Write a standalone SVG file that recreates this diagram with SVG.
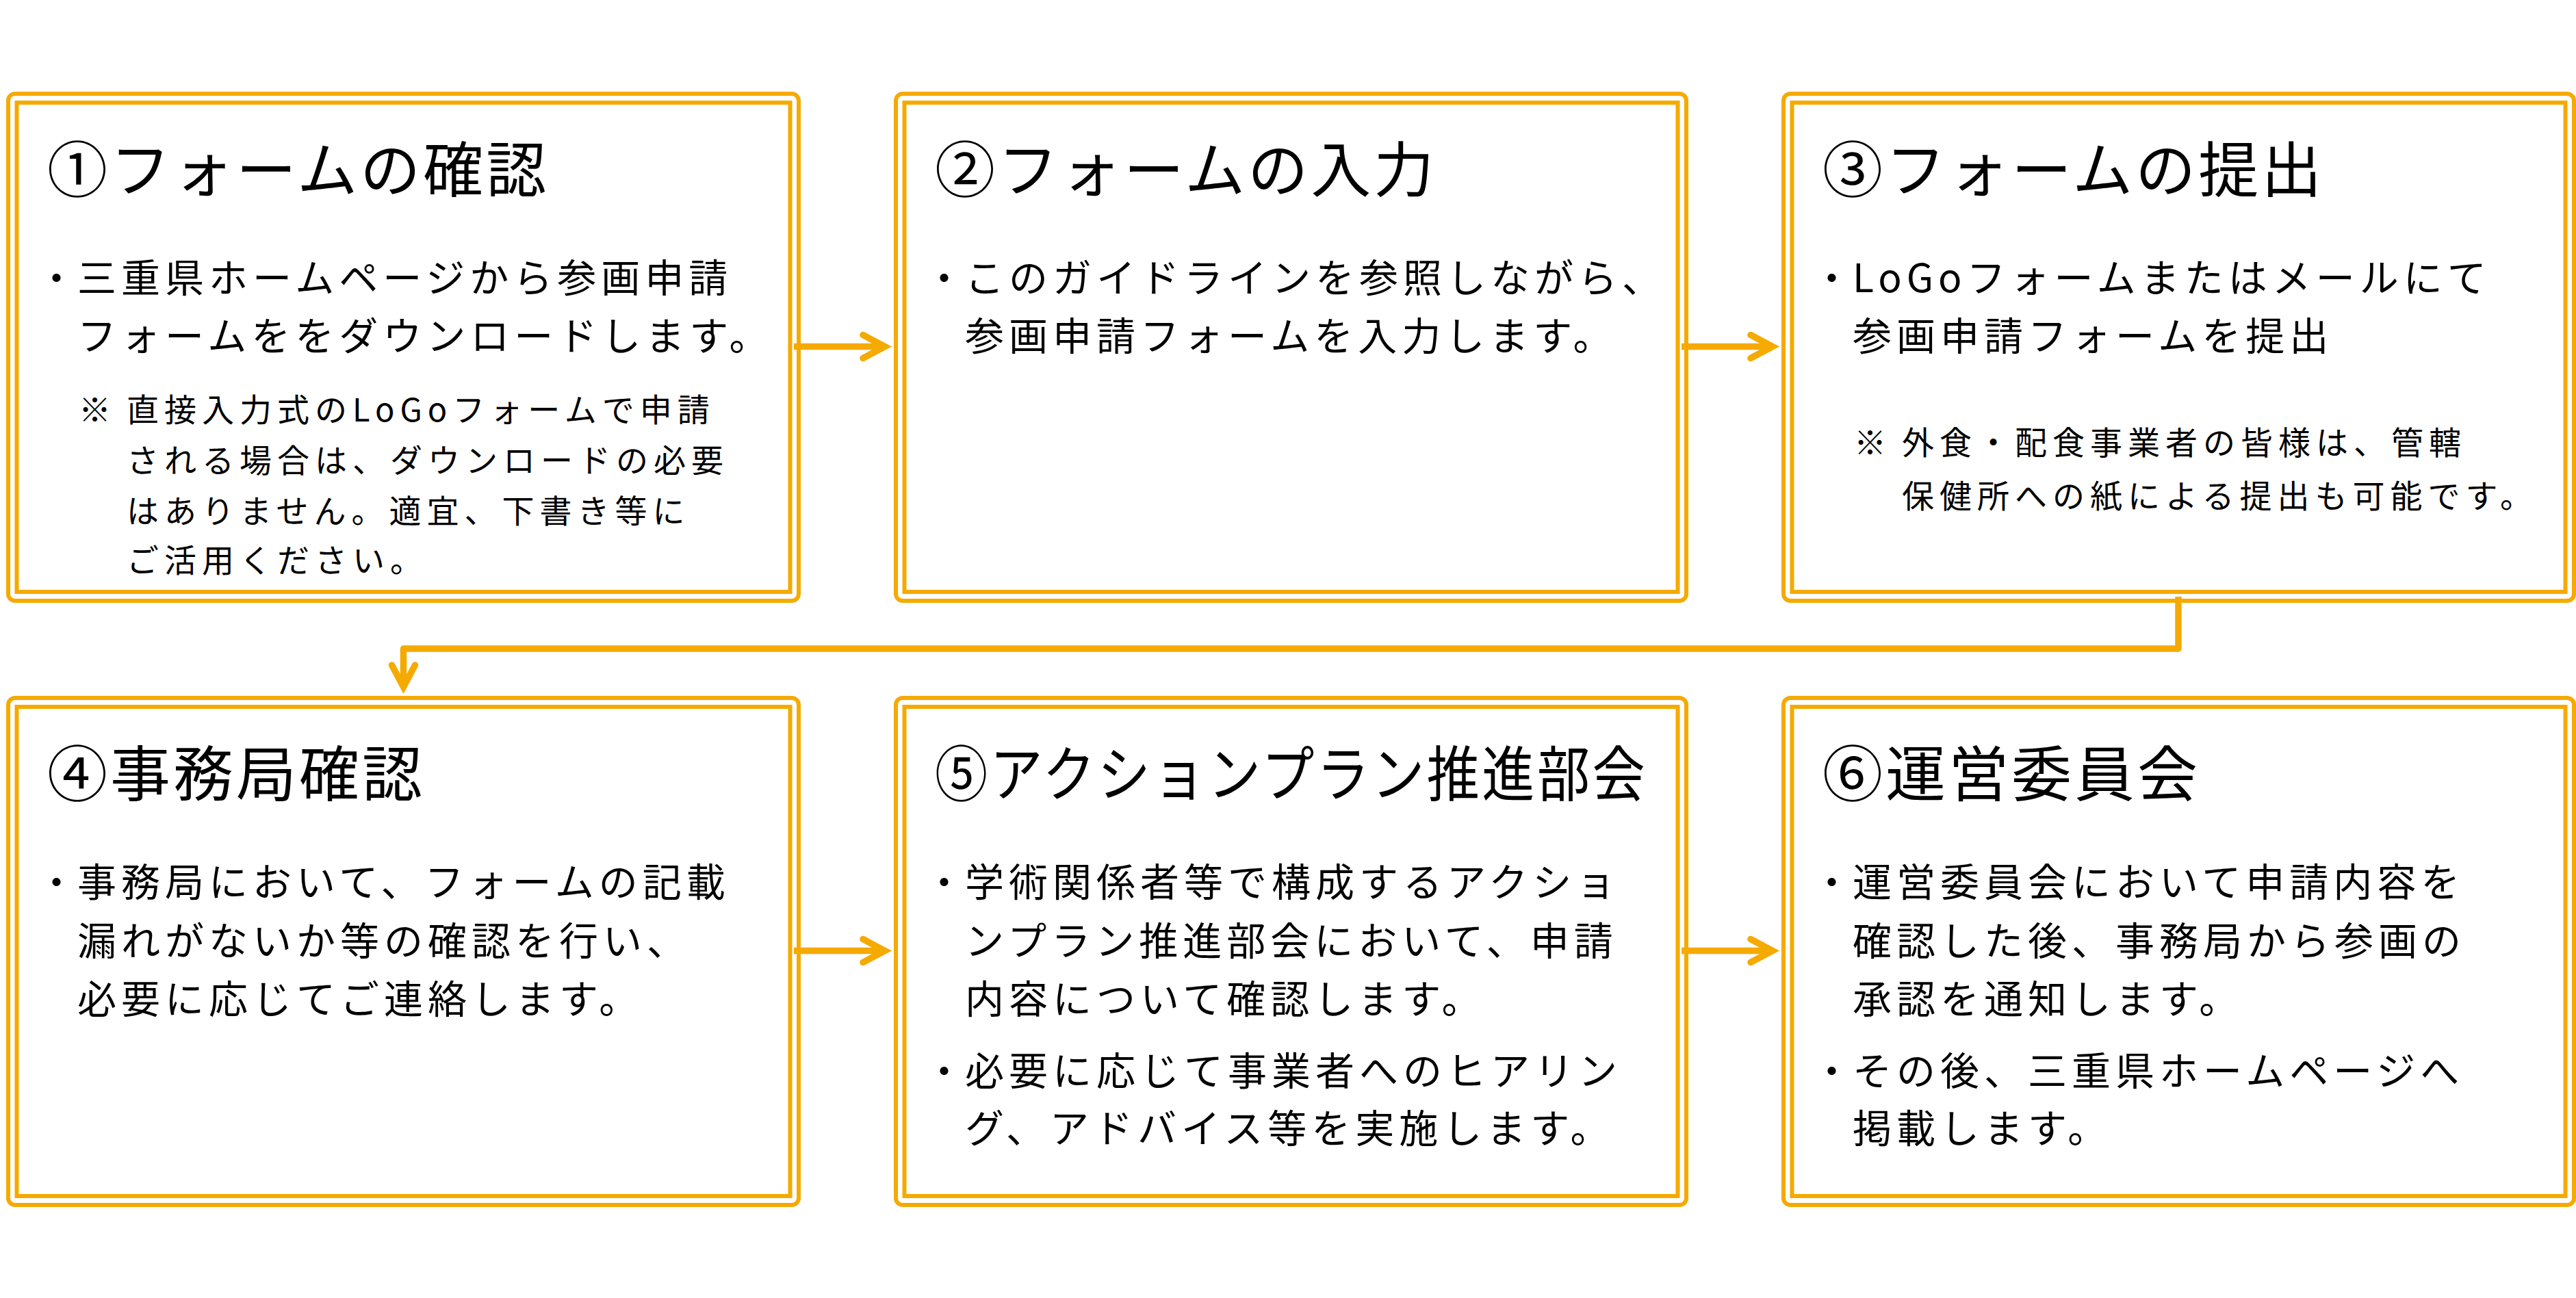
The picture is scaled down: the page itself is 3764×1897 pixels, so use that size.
<svg xmlns="http://www.w3.org/2000/svg" width="3764" height="1897" viewBox="0 0 3764 1897">
<style>
.outer{fill:none;stroke:#F5AA00;stroke-width:6}
.inner{fill:#fff;stroke:#F5AA00;stroke-width:6}
text{font-family:"Noto Sans CJK JP","Noto Sans CJK SC",sans-serif;fill:#000}
.title{font-size:88px;letter-spacing:4px}
.body{font-size:57px;letter-spacing:7px}
.note{font-size:47px;letter-spacing:8px}
.conn{fill:none;stroke:#F5AA00;stroke-width:9.5;stroke-linejoin:round}
</style>
<defs>
<marker id="arr" markerUnits="userSpaceOnUse" markerWidth="60" markerHeight="60" viewBox="-50 -30 60 60" refX="0" refY="0" orient="auto" overflow="visible">
<path d="M-32,-17 L0,0 L-32,17" fill="none" stroke="#F5AA00" stroke-width="9.5" stroke-linecap="round" stroke-linejoin="miter" stroke-miterlimit="10"/>
</marker>
</defs>
<rect width="3764" height="1897" fill="#fff"/>

<g id="connectors">
<path class="conn" d="M1160,506.5 H1293" marker-end="url(#arr)"/>
<path class="conn" d="M2457,506.5 H2590" marker-end="url(#arr)"/>
<path class="conn" d="M1160,1389.5 H1293" marker-end="url(#arr)"/>
<path class="conn" d="M2457,1389.5 H2590" marker-end="url(#arr)"/>
<path class="conn" d="M3183,872 V948 H589.5 V1004" marker-end="url(#arr)"/>
</g>

<g id="node1" transform="translate(12,137)">
<rect class="outer" x="0" y="0" width="1155" height="741" rx="10"/>
<rect class="inner" x="12.5" y="13" width="1130" height="715"/>
<text class="title" x="57" y="143">①フォームの確認</text>
<text class="body" y="290"><tspan x="42">・</tspan><tspan x="101">三重県ホームページから参画申請</tspan></text>
<text class="body" x="101" y="375">フォームををダウンロードします。</text>
<text class="note" y="479"><tspan x="103">※</tspan><tspan x="173">直接入力式のLoGoフォームで申請</tspan></text>
<text class="note" x="173" y="553">される場合は、ダウンロードの必要</text>
<text class="note" x="173" y="627">はありません。適宜、下書き等に</text>
<text class="note" x="173" y="699">ご活用ください。</text>
</g>

<g id="node2" transform="translate(1309,137)">
<rect class="outer" x="0" y="0" width="1155" height="741" rx="10"/>
<rect class="inner" x="12.5" y="13" width="1130" height="715"/>
<text class="title" x="57" y="143">②フォームの入力</text>
<text class="body" y="290"><tspan x="42">・</tspan><tspan x="101">このガイドラインを参照しながら、</tspan></text>
<text class="body" x="101" y="375">参画申請フォームを入力します。</text>
</g>

<g id="node3" transform="translate(2606,137)">
<rect class="outer" x="0" y="0" width="1155" height="741" rx="10"/>
<rect class="inner" x="12.5" y="13" width="1130" height="715"/>
<text class="title" x="57" y="143">③フォームの提出</text>
<text class="body" y="290"><tspan x="42">・</tspan><tspan x="101">LoGoフォームまたはメールにて</tspan></text>
<text class="body" x="101" y="375">参画申請フォームを提出</text>
<text class="note" y="527"><tspan x="103">※</tspan><tspan x="173">外食・配食事業者の皆様は、管轄</tspan></text>
<text class="note" x="173" y="605">保健所への紙による提出も可能です。</text>
</g>

<g id="node4" transform="translate(12,1020)">
<rect class="outer" x="0" y="0" width="1155" height="741" rx="10"/>
<rect class="inner" x="12.5" y="13" width="1130" height="715"/>
<text class="title" x="57" y="143">④事務局確認</text>
<text class="body" y="290"><tspan x="42">・</tspan><tspan x="101">事務局において、フォームの記載</tspan></text>
<text class="body" x="101" y="376">漏れがないか等の確認を行い、</text>
<text class="body" x="101" y="461">必要に応じてご連絡します。</text>
</g>

<g id="node5" transform="translate(1309,1020)">
<rect class="outer" x="0" y="0" width="1155" height="741" rx="10"/>
<rect class="inner" x="12.5" y="13" width="1130" height="715"/>
<text class="title" x="57" y="143" letter-spacing="0" textLength="1041" lengthAdjust="spacingAndGlyphs">⑤アクションプラン推進部会</text>
<text class="body" y="290"><tspan x="42">・</tspan><tspan x="101">学術関係者等で構成するアクショ</tspan></text>
<text class="body" x="101" y="376">ンプラン推進部会において、申請</text>
<text class="body" x="101" y="461">内容について確認します。</text>
<text class="body" y="566"><tspan x="42">・</tspan><tspan x="101">必要に応じて事業者へのヒアリン</tspan></text>
<text class="body" x="101" y="650">グ、アドバイス等を実施します。</text>
</g>

<g id="node6" transform="translate(2606,1020)">
<rect class="outer" x="0" y="0" width="1155" height="741" rx="10"/>
<rect class="inner" x="12.5" y="13" width="1130" height="715"/>
<text class="title" x="57" y="143">⑥運営委員会</text>
<text class="body" y="290"><tspan x="42">・</tspan><tspan x="101">運営委員会において申請内容を</tspan></text>
<text class="body" x="101" y="376">確認した後、事務局から参画の</text>
<text class="body" x="101" y="461">承認を通知します。</text>
<text class="body" y="566"><tspan x="42">・</tspan><tspan x="101">その後、三重県ホームページへ</tspan></text>
<text class="body" x="101" y="650">掲載します。</text>
</g>
</svg>
